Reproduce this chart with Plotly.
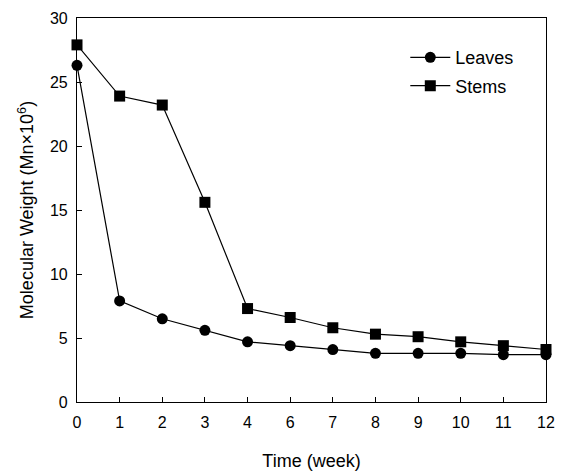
import plotly.graph_objects as go

weeks = ["0", "1", "2", "3", "4", "6", "7", "8", "9", "10", "11", "12"]
leaves = [26.3, 7.9, 6.5, 5.6, 4.7, 4.4, 4.1, 3.8, 3.8, 3.8, 3.7, 3.7]
stems = [27.9, 23.9, 23.2, 15.6, 7.3, 6.6, 5.8, 5.3, 5.1, 4.7, 4.4, 4.1]
y_ticks = [0, 5, 10, 15, 20, 25, 30]

fam = "Liberation Sans, Arial, sans-serif"
font = dict(family=fam, color="black", size=16)

fig = go.Figure()
fig.add_trace(go.Scatter(x=weeks, y=leaves, name="Leaves", mode="lines+markers",
                         legendgroup="a",
                         line=dict(color="black", width=1.2),
                         marker=dict(symbol="circle", size=11, color="black"),
                         cliponaxis=False))
fig.add_trace(go.Scatter(x=weeks, y=stems, name="Stems", mode="lines+markers",
                         legendgroup="b",
                         line=dict(color="black", width=1.2),
                         marker=dict(symbol="square", size=11, color="black"),
                         cliponaxis=False))

fig.update_layout(
    width=566, height=472,
    margin=dict(l=77, r=20, t=18, b=70),
    paper_bgcolor="white", plot_bgcolor="white",
    font=font,
    showlegend=True,
    legend=dict(x=0.70, y=0.945, xanchor="left", yanchor="top",
                bgcolor="rgba(0,0,0,0)", font=dict(size=18), itemwidth=40,
                tracegroupgap=2),
    xaxis=dict(type="category", range=[0, 11], showgrid=False, zeroline=False,
               showline=True, linecolor="black", linewidth=1.2, mirror=True,
               ticks="inside", ticklen=5, tickcolor="black", automargin=False,
               ticklabelstandoff=6,
               title=dict(text="Time (week)", font=dict(size=18), standoff=24),
               tickfont=dict(size=16)),
    yaxis=dict(range=[0, 30], tickvals=y_ticks, showgrid=False, zeroline=False,
               showline=True, linecolor="black", linewidth=1.2, mirror=True,
               ticks="inside", ticklen=5, tickcolor="black", automargin=False,
               ticklabelstandoff=5,
               title=dict(text="Molecular Weight (Mn×10<sup>6</sup>)", font=dict(size=18), standoff=11),
               tickfont=dict(size=16)),
)

fig.write_html("out.html", config={"displayModeBar": False},
               post_script="document.body.style.margin='0';")
